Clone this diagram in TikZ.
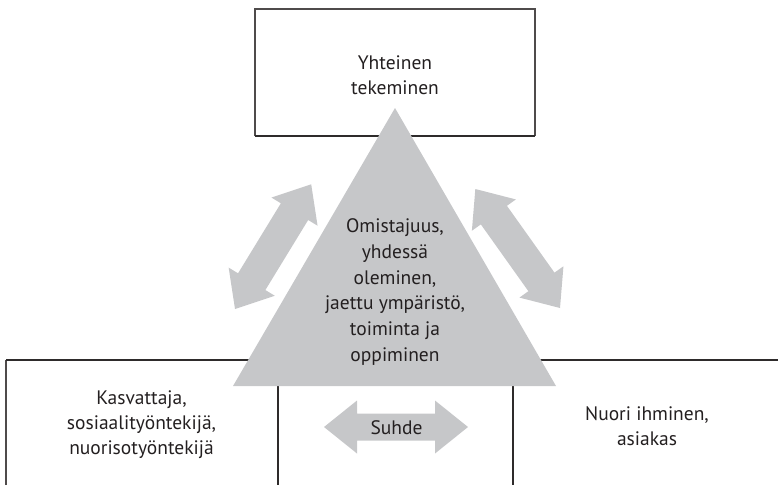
\documentclass[tikz,border=0pt]{standalone}
\usepackage{fontspec}
\setmainfont{PT Sans}
\definecolor{boxline}{HTML}{2E2B2B}
\definecolor{boxgray}{HTML}{4F4B4B}
\definecolor{arrowgray}{HTML}{C6C7C9}
\definecolor{txt}{HTML}{231F20}
\newcommand\dblarrowshape[4]{%
  \fill[arrowgray] (0,0) -- (#4,#2) -- (#4,#3) -- ({#1-#4},#3) -- ({#1-#4},#2) -- (#1,0)
    -- ({#1-#4},-#2) -- ({#1-#4},-#3) -- (#4,-#3) -- (#4,-#2) -- cycle;}
\begin{document}
\begin{tikzpicture}[x=1pt,y=-1pt,
  frameline/.style={draw=boxline,line width=1.4pt},
  grayline/.style={draw=boxgray,line width=1.8pt},
  label/.style={font=\fontsize{19.5}{25}\selectfont,text=txt,align=center,inner sep=0pt}]
\useasboundingbox (0,0) rectangle (778,485);
% top box
\coordinate (tbl) at (255,136);
\coordinate (ttl) at (255,9);
\coordinate (ttr) at (535,9);
\coordinate (tbr) at (535,136);
\draw[grayline] (tbl) -- (ttl) -- (ttr) -- (tbr);
\draw[frameline] (tbl) -- (tbr);
\node[label] (top) at (395,75) {Yhteinen\\tekeminen};
% bottom boxes
\coordinate (bl) at (6,485);
\coordinate (btl) at (6,360);
\coordinate (btr) at (778,360);
\draw[grayline] (bl) -- (btl);
\draw[frameline] (btl) -- (btr);
\draw[frameline] (278,360) -- (278,485);
\draw[frameline] (513,360) -- (513,485);
% triangle
\fill[arrowgray] (395,108) coordinate (apex) -- (233,386) coordinate (bL) -- (556,386) coordinate (bR) -- cycle;
\node[label,font=\fontsize{19.5}{25.8}\selectfont] (tri) at (395,292) {Omistajuus,\\yhdessä\\oleminen,\\jaettu ympäristö,\\toiminta ja\\oppiminen};
% left diagonal arrow
\begin{scope}[shift={(235,309)},x={(0.522pt,0.854pt)},y={(0.854pt,-0.522pt)}]
  \dblarrowshape{146}{27}{16}{32}
\end{scope}
% right diagonal arrow
\begin{scope}[shift={(560,308)},x={(-0.580pt,0.815pt)},y={(0.815pt,0.580pt)}]
  \dblarrowshape{146}{27}{16}{32}
\end{scope}
% Suhde arrow
\begin{scope}[shift={(324,427)}]
  \dblarrowshape{144}{26.5}{13.5}{33}
\end{scope}
\node[label] (suhde) at (396.5,428) {Suhde};
% texts
\node[label] (left) at (141.5,425) {Kasvattaja,\\sosiaalityöntekijä,\\nuorisotyöntekijä};
\node[label] (right) at (647,426) {Nuori ihminen,\\asiakas};
\end{tikzpicture}
\end{document}
